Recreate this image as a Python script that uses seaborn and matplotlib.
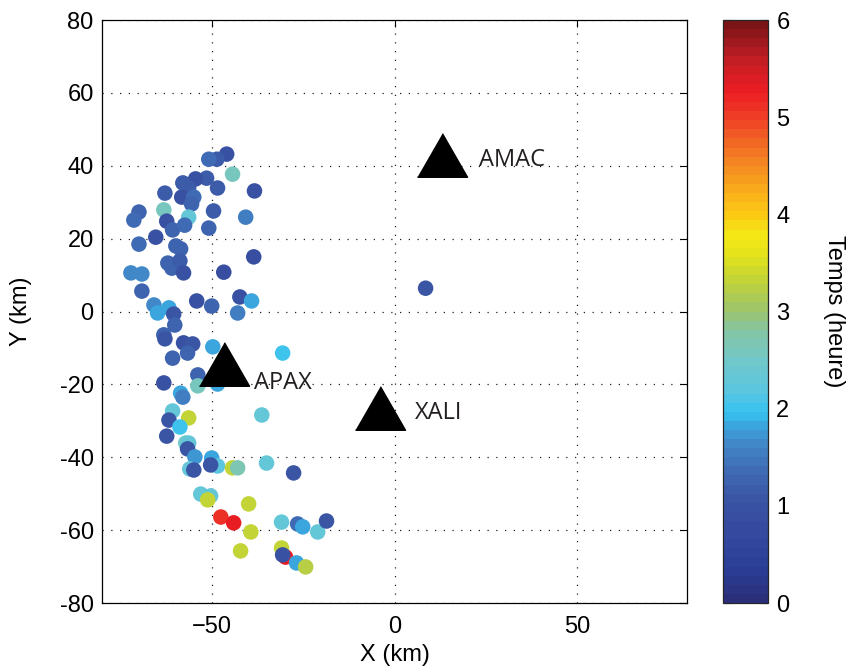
import pandas as pd
import matplotlib.pyplot as plt
import seaborn as sns
from matplotlib.colors import LinearSegmentedColormap, Normalize
from matplotlib.cm import ScalarMappable

# epicentres (km) et temps d'arrivee (heure)
x_km = [-45.9, -48.6, -50.8, -44.3, -38.3, -48.4, -51.4, -54.4, -57.9, -56.3,
        -62.8, -58.2, -54.9, -55.5, -69.9, -71.3, -63.1, -62.3, -60.7, -56.3,
        -57.4, -49.5, -40.7, -50.8, -65.3, -69.9, -59.8, -58.5, -38.5, -46.7,
        -62.0, -60.9, -58.7, -57.7, -72.1, -69.1, -69.1, -54.1, -42.3, -39.1,
        -50.0, -65.8, -61.7, -64.8, -42.9, -60.4, -60.1, -63.1, -62.8, -57.7,
        -55.2, -56.6, -60.7, -49.7, -30.6, -53.8, -63.1, -48.4, -53.8, -58.5,
        -57.9, -60.7, -56.3, -61.7, -58.7, -62.3, -36.3, -57.1, -56.3, -56.6,
        -54.6, -50.0, -48.4, -56.0, -54.9, -50.3, -44.3, -42.9, -35.0, -27.6,
        -53.0, -50.3, -51.1, -39.9, -47.5, -44.0, -39.3, -42.1, -30.9, -26.5,
        -25.1, -21.0, -18.6, -30.9, -29.8, -30.6, -26.8, -24.3, 8.5]
y_km = [43.2, 41.8, 41.8, 37.7, 33.1, 33.9, 36.6, 36.4, 35.3, 33.9,
        32.5, 31.4, 31.4, 29.5, 27.3, 25.1, 27.9, 24.8, 22.4, 25.9,
        23.7, 27.6, 25.9, 22.9, 20.4, 18.5, 18.0, 17.2, 15.0, 10.8,
        13.3, 11.9, 13.9, 10.6, 10.6, 10.3, 5.6, 2.9, 4.0, 2.9,
        1.5, 1.8, 1.0, -0.4, -0.4, -0.7, -3.7, -6.4, -7.5, -8.6,
        -8.9, -11.4, -12.8, -9.7, -11.4, -17.4, -19.6, -19.9, -20.4, -22.4,
        -23.5, -27.3, -29.2, -29.8, -31.7, -34.2, -28.4, -36.1, -36.1, -37.7,
        -39.9, -40.2, -42.4, -43.2, -43.5, -42.1, -42.9, -42.9, -41.6, -44.3,
        -50.1, -50.6, -51.7, -52.8, -56.4, -58.0, -60.5, -65.7, -57.8, -58.3,
        -59.1, -60.5, -57.5, -64.9, -67.4, -66.8, -69.0, -70.1, 6.4]
temps = [1.0, 1.2, 1.4, 2.6, 1.0, 1.2, 1.2, 1.0, 1.2, 1.2,
         1.2, 1.0, 1.4, 1.3, 1.3, 1.4, 2.6, 1.0, 1.3, 2.3,
         1.4, 1.2, 1.5, 1.3, 1.0, 1.4, 1.3, 1.3, 0.9, 0.9,
         1.3, 1.3, 1.2, 1.0, 1.6, 1.6, 1.3, 1.0, 1.0, 1.85,
         1.3, 1.6, 1.8, 1.8, 1.5, 1.1, 1.3, 1.3, 1.1, 1.0,
         1.1, 1.3, 1.3, 1.8, 2.0, 1.3, 1.0, 1.8, 2.55, 1.8,
         1.5, 2.3, 3.3, 1.1, 2.0, 1.1, 2.25, 2.5, 2.3, 1.1,
         1.7, 1.8, 2.2, 2.3, 1.1, 1.1, 3.3, 2.7, 2.3, 1.1,
         2.3, 2.3, 3.3, 3.3, 5.1, 5.3, 3.3, 3.3, 2.3, 1.4,
         1.8, 2.3, 1.1, 3.3, 5.3, 1.0, 1.8, 3.2, 1.1]

stations = ['AMAC', 'APAX', 'XALI']
sta_x = [13.1, -46.7, -4.1]
sta_y = [43.0, -14.5, -26.5]

df = pd.DataFrame({'x': x_km, 'y': y_km, 't': temps})

# jet adouci comme dans la figure originale
stops = [(0, '#2b2f7a'), (0.05, '#2a3d95'), (0.1, '#34479e'), (1/6, '#3a52a2'),
         (1.3/6, '#3f68b3'), (1.6/6, '#4185c6'), (1.8/6, '#3ba4dd'), (1.95/6, '#36c4f0'),
         (2.2/6, '#5fc6de'), (2.5/6, '#72c8c8'), (2.8/6, '#85c4a4'), (3/6, '#9bc46e'),
         (3.3/6, '#bfd23a'), (3.6/6, '#e4e31a'), (3.8/6, '#f5e816'), (4/6, '#fbcb14'),
         (4.3/6, '#f9a81c'), (4.6/6, '#f38023'), (5/6, '#ee4226'), (5.3/6, '#ec1d24'),
         (5.6/6, '#c81e26'), (1, '#7a1416')]
cmap = LinearSegmentedColormap.from_list('jet_doux', stops, N=64)
norm = Normalize(0, 6)

sns.set_style('white')
plt.rcParams['font.family'] = ['Liberation Sans', 'DejaVu Sans']
plt.rcParams['text.color'] = 'black'
plt.rcParams['axes.labelcolor'] = 'black'

fig = plt.figure(figsize=(8.53, 6.68), dpi=100)
ax = fig.add_axes([0.1196, 0.0973, 0.6858, 0.8727])

sns.scatterplot(data=df, x='x', y='y', hue='t', palette=cmap, hue_norm=norm,
                s=125, linewidth=0, legend=False, ax=ax, zorder=3)

tri = [(-1, -0.87), (1, -0.87), (0, 0.87)]
ax.scatter(sta_x, sta_y, marker=tri, s=1300, color='black', zorder=4)
offsets = {'AMAC': (10, -1.4), 'APAX': (8.2, -5.0), 'XALI': (9.8, -1.4)}
for name, sx, sy in zip(stations, sta_x, sta_y):
    dx, dy = offsets[name]
    ax.text(sx + dx, sy + dy, name, fontsize=17, family='Open Sans',
            color='#231f20', va='center', ha='left', zorder=5)

ax.set_xlim(-80, 80)
ax.set_ylim(-80, 80)
ax.set_xticks([-50, 0, 50])
ax.set_yticks(range(-80, 81, 20))
ax.set_yticklabels([str(v) for v in range(-80, 81, 20)])
ax.grid(True, color='#222222', linestyle=(0, (1, 6)), linewidth=0.9)
ax.tick_params(direction='in', length=5, width=0.8, labelsize=17, colors='black',
               top=True, right=True, pad=6)
ax.tick_params(axis='x', pad=9)
for sp in ax.spines.values():
    sp.set_color('black')
    sp.set_linewidth(0.9)
ax.set_xlabel('X (km)', fontsize=17, labelpad=5)
ax.set_ylabel('Y (km)', fontsize=17, labelpad=20)

cax = fig.add_axes([0.8476, 0.0973, 0.0528, 0.8727])
cb = fig.colorbar(ScalarMappable(norm=norm, cmap=cmap), cax=cax)
cb.set_ticks(range(0, 7))
cb.outline.set_linewidth(0.9)
cax.tick_params(direction='in', length=5, width=0.8, labelsize=17, colors='black',
                left=True, right=True, pad=6)
cb.set_label('Temps (heure)', fontsize=17, rotation=270, labelpad=40)

plt.savefig('out.png', dpi=100)
